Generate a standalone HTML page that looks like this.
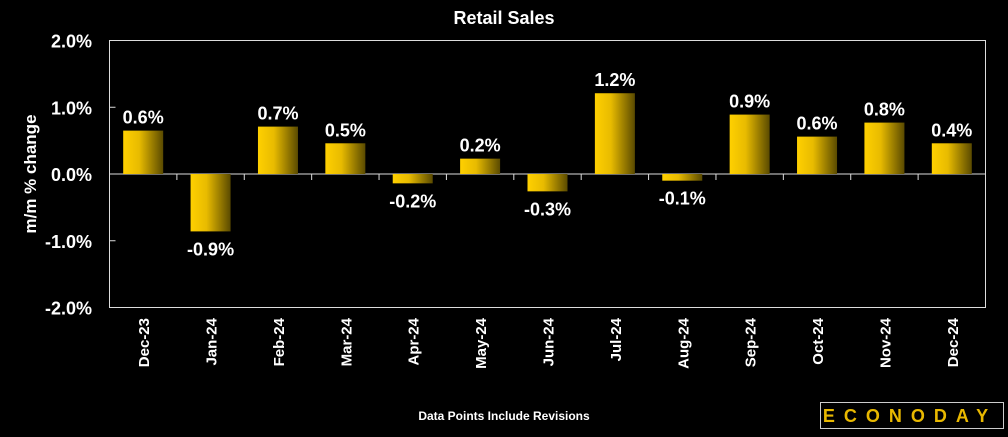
<!DOCTYPE html>
<html><head><meta charset="utf-8"><style>
body{margin:0;background:#000;width:1008px;height:432px;overflow:hidden}
svg text{font-family:"Liberation Sans",sans-serif;fill:#fff;font-weight:bold}
</style></head><body>
<svg width="1008" height="432">
<defs><linearGradient id="g" x1="0" x2="1"><stop offset="0" stop-color="#ffd000"/><stop offset="0.4" stop-color="#e8bb00"/><stop offset="1" stop-color="#5a4a00"/></linearGradient></defs>
<text x="504" y="24" text-anchor="middle" font-size="18">Retail Sales</text>
<rect x="109.5" y="40.5" width="876" height="267" fill="none" stroke="#ddd" stroke-width="1"/>
<g id="yax"></g><g id="bars"></g><g id="xl"></g>
<text transform="translate(36,174) rotate(-90)" text-anchor="middle" font-size="17">m/m % change</text>
<text x="504" y="420" text-anchor="middle" font-size="12">Data Points Include Revisions</text>
<rect x="820.5" y="402.5" width="183" height="26" fill="#000" stroke="#ccc"/>
<text x="910" y="422" text-anchor="middle" font-size="18" letter-spacing="9" style="fill:#e8b800">ECONODAY</text>
</svg>
<script>
const categories=["Dec-23","Jan-24","Feb-24","Mar-24","Apr-24","May-24","Jun-24","Jul-24","Aug-24","Sep-24","Oct-24","Nov-24","Dec-24"];
const values=[0.65,-0.86,0.71,0.46,-0.14,0.23,-0.26,1.21,-0.10,0.89,0.56,0.77,0.46];
const labels=["0.6%","-0.9%","0.7%","0.5%","-0.2%","0.2%","-0.3%","1.2%","-0.1%","0.9%","0.6%","0.8%","0.4%"];
const yTicks=[2,1,0,-1,-2];
const yTickLabels=["2.0%","1.0%","0.0%","-1.0%","-2.0%"];
const NS="http://www.w3.org/2000/svg";
const L=109.5,W=876,T=40.5,H=267,min=-2,max=2;
const y=v=>T+(max-v)/(max-min)*H;
const step=W/categories.length;
const x=i=>L+step*(i+0.5);
function mk(t,a,p,txt){const e=document.createElementNS(NS,t);for(const k in a)e.setAttribute(k,a[k]);if(txt!=null)e.textContent=txt;document.getElementById(p).appendChild(e);return e;}
yTicks.forEach((v,i)=>{
 const t=mk("text",{x:92,y:y(v)+7,"text-anchor":"end","font-size":"18"},"yax",yTickLabels[i]);
 
 
 const l=mk("line",{x1:L,x2:L+6,y1:y(v),y2:y(v),stroke:"#ddd"},"yax");
 
 
});
const z=mk("line",{x1:L,x2:L+W,y1:y(0),y2:y(0),stroke:"#ddd"},"yax");


categories.forEach((c,i)=>{
 if(i>0){const tk=mk("line",{x1:L+step*i,x2:L+step*i,y1:y(0),y2:y(0)+6,stroke:"#ddd"},"yax");
 
 }
 const v=values[i],y0=y(0),y1=y(v);
 const r=mk("rect",{x:x(i)-20,y:Math.min(y0,y1),width:40,height:Math.abs(y1-y0),fill:"url(#g)"},"bars");
 
 
 const ly=v>=0?y1-7:y1+24;
 const t=mk("text",{x:x(i),y:ly,"text-anchor":"middle","font-size":"18"},"bars",labels[i]);
 
 
 const xt=mk("text",{transform:`translate(${x(i)+6},318) rotate(-90)`,"text-anchor":"end","font-size":"15"},"xl",c);
 
 
});
</script>
</body></html>
